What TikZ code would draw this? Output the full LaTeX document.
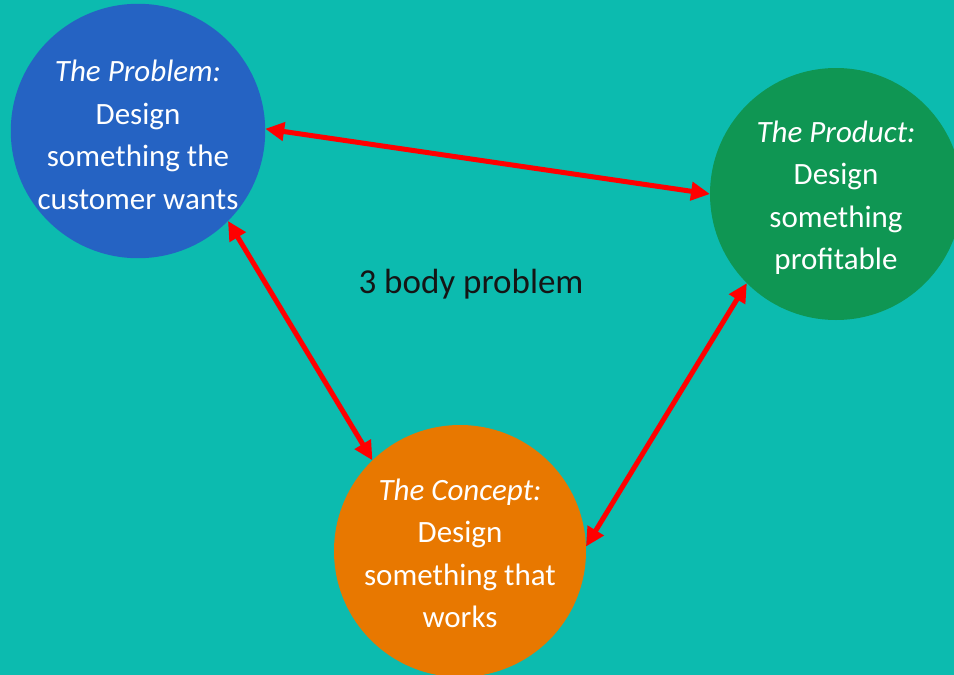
\documentclass[tikz,border=0pt]{standalone}
\usepackage{fontspec}
\setmainfont{Carlito}
\usetikzlibrary{arrows.meta}
\definecolor{bgteal}{HTML}{0CBBAF}
\definecolor{probblue}{HTML}{2563C3}
\definecolor{prodgreen}{HTML}{0F9653}
\definecolor{concorange}{HTML}{E87800}
\definecolor{arrred}{HTML}{FF0000}
\definecolor{labeltext}{HTML}{151515}
\newcommand{\toppad}[1]{\rule{0pt}{#1}}
\tikzset{
  bubble/.style={circle, minimum size=252pt, inner sep=0pt, outer sep=0pt, text=white, align=center,
    font=\fontsize{31pt}{42.5pt}\selectfont},
  link/.style={draw=arrred, line width=5pt, {Triangle[length=19pt,width=18pt]}-{Triangle[length=19pt,width=18pt]}},
}
\begin{document}
\begin{tikzpicture}[x=1pt,y=-1pt]
\fill[bgteal] (0,0) rectangle (954,675);
\useasboundingbox (0,0) rectangle (954,675);
\node[bubble, fill=probblue] (prob) at (138,131) {\toppad{29pt}\textit{The Problem:}\\Design\\something the\\customer wants};
\node[bubble, fill=prodgreen] (prod) at (836,194) {\toppad{29pt}\textit{The Product:}\\Design\\something\\profitable};
\node[bubble, fill=concorange] (conc) at (460,551) {\toppad{26pt}\textit{The Concept:}\\Design\\something that\\works};
\node[text=labeltext, font=\fontsize{35pt}{40pt}\selectfont, inner sep=0pt] (label) at (471,284) {3 body problem};
\draw[link] (prob.1.4) -- (prod.180.5);
\draw[link] (prob.-45) -- (conc.134);
\draw[link] (prod.225.6) -- (conc.2);
\end{tikzpicture}
\end{document}
